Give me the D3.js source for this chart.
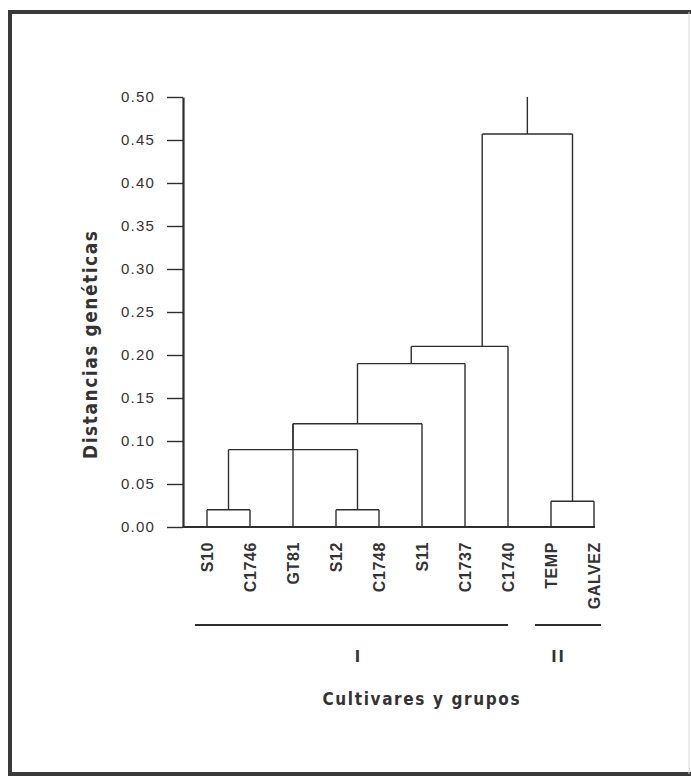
<!DOCTYPE html>
<html>
<head>
<meta charset="utf-8">
<script src="https://cdn.jsdelivr.net/npm/d3@7"></script>
<style>
  html, body { margin: 0; padding: 0; background: #ffffff; }
  svg { display: block; }
</style>
</head>
<body>
<svg id="chart" width="691" height="778"></svg>
<script>
// ---- data ----
const leaves = ["S10", "C1746", "GT81", "S12", "C1748", "S11", "C1737", "C1740", "TEMP", "GALVEZ"];
const yTicks = [0, 0.05, 0.10, 0.15, 0.20, 0.25, 0.30, 0.35, 0.40, 0.45, 0.50];
// merges: id, children (leaf names or node ids), height (genetic distance)
const merges = [
  { id: "n1", children: ["S10", "C1746"], height: 0.02 },
  { id: "n2", children: ["S12", "C1748"], height: 0.02 },
  { id: "n3", children: ["n1", "n2"], height: 0.09 },
  { id: "n4", children: ["n3", "GT81", "S11"], height: 0.12 },
  { id: "n5", children: ["n4", "C1737"], height: 0.19 },
  { id: "n6", children: ["n5", "C1740"], height: 0.21, anchor: 6.4 },
  { id: "n7", children: ["TEMP", "GALVEZ"], height: 0.03 },
  { id: "n8", children: ["n6", "n7"], height: 0.457 }
];
const rootTop = 0.50;
const groups = [
  { label: "I", from: "S10", to: "C1740" },
  { label: "II", from: "TEMP", to: "GALVEZ" }
];
const yTitle = "Distancias genéticas";
const xTitle = "Cultivares y grupos";

// ---- drawing ----
const svg = d3.select("#chart");
const ink = "#2e2e2e";

// frame
svg.append("path")
  .attr("d", "M8,12 H691 M10,10 V776 M8,774 H691")
  .attr("fill", "none").attr("stroke", "#3a3a3a").attr("stroke-width", 4);
svg.append("line").attr("x1", 689).attr("x2", 689).attr("y1", 12).attr("y2", 774)
  .attr("stroke", "#d8d8d8").attr("stroke-width", 1);

const xIdx = d3.scaleLinear().domain([0, leaves.length - 1]).range([207, 594]);
const y = d3.scaleLinear().domain([0, 0.5]).range([527, 97]);

// node positions
const pos = {};
leaves.forEach((l, i) => pos[l] = { x: xIdx(i), h: 0 });
const g = svg.append("g").attr("fill", "none").attr("stroke", ink).attr("stroke-width", 1.4);
merges.forEach(m => {
  const kids = m.children.map(c => pos[c]);
  const xs = kids.map(k => k.x);
  const x0 = d3.min(xs), x1 = d3.max(xs);
  kids.forEach(k => {
    g.append("line").attr("x1", k.x).attr("x2", k.x).attr("y1", y(k.h)).attr("y2", y(m.height));
  });
  g.append("line").attr("x1", x0).attr("x2", x1).attr("y1", y(m.height)).attr("y2", y(m.height));
  const nx = m.anchor !== undefined ? xIdx(m.anchor) : (x0 + x1) / 2;
  pos[m.id] = { x: nx, h: m.height };
});
const root = pos[merges[merges.length - 1].id];
g.append("line").attr("x1", root.x).attr("x2", root.x).attr("y1", y(root.h)).attr("y2", y(rootTop));

// baseline
svg.append("line")
  .attr("x1", 183).attr("x2", xIdx(leaves.length - 1) + 1)
  .attr("y1", y(0)).attr("y2", y(0))
  .attr("stroke", ink).attr("stroke-width", 2);

// y axis
const axis = svg.append("g").attr("transform", "translate(183,0)")
  .call(d3.axisLeft(y).tickValues(yTicks).tickFormat(d3.format(".2f")).tickSize(16).tickSizeOuter(0).tickPadding(12));
axis.select(".domain").attr("stroke", ink).attr("stroke-width", 2.2);
axis.selectAll(".tick line").attr("stroke", ink).attr("stroke-width", 1.4);
axis.selectAll(".tick text")
  .attr("font-family", "'Liberation Sans', Arial, sans-serif")
  .attr("font-size", 15).attr("fill", "#333")
  .attr("letter-spacing", "1.2px");

// leaf labels
svg.append("g").selectAll("text").data(leaves).join("text")
  .attr("transform", (d, i) => `translate(${xIdx(i) + 5.5},542) rotate(-90)`)
  .attr("text-anchor", "end")
  .attr("font-family", "'Liberation Sans', Arial, sans-serif")
  .attr("font-weight", "bold").attr("font-size", 16)
  .attr("letter-spacing", "0.6px")
  .attr("fill", "#333")
  .text(d => d);

// group lines
groups.forEach((gr, k) => {
  const a = xIdx(leaves.indexOf(gr.from)), b = xIdx(leaves.indexOf(gr.to));
  const x0 = a - (k === 0 ? 12 : 16), x1 = b + (k === 0 ? 0 : 7);
  svg.append("line").attr("x1", x0).attr("x2", x1).attr("y1", 625).attr("y2", 625)
    .attr("stroke", ink).attr("stroke-width", 2);
  svg.append("text")
    .attr("x", (a + b) / 2 + (k === 0 ? 1 : -14)).attr("y", 662)
    .attr("text-anchor", "middle")
    .attr("font-family", "'DejaVu Sans Condensed', 'DejaVu Sans', sans-serif")
    .attr("font-weight", "bold").attr("font-size", 16)
    .attr("letter-spacing", "2px")
    .attr("fill", "#333")
    .text(gr.label);
});

// axis titles
svg.append("text")
  .attr("transform", "translate(97,345) rotate(-90)")
  .attr("text-anchor", "middle")
  .attr("font-family", "'DejaVu Sans Condensed', 'DejaVu Sans', sans-serif")
  .attr("font-weight", "bold").attr("font-size", 19)
  .attr("textLength", 228).attr("lengthAdjust", "spacing")
  .attr("fill", "#333")
  .text(yTitle);

svg.append("text")
  .attr("x", 421).attr("y", 705)
  .attr("text-anchor", "middle")
  .attr("font-family", "'DejaVu Sans Condensed', 'DejaVu Sans', sans-serif")
  .attr("font-weight", "bold").attr("font-size", 17)
  .attr("textLength", 197).attr("lengthAdjust", "spacing")
  .attr("fill", "#333")
  .text(xTitle);
</script>
</body>
</html>
